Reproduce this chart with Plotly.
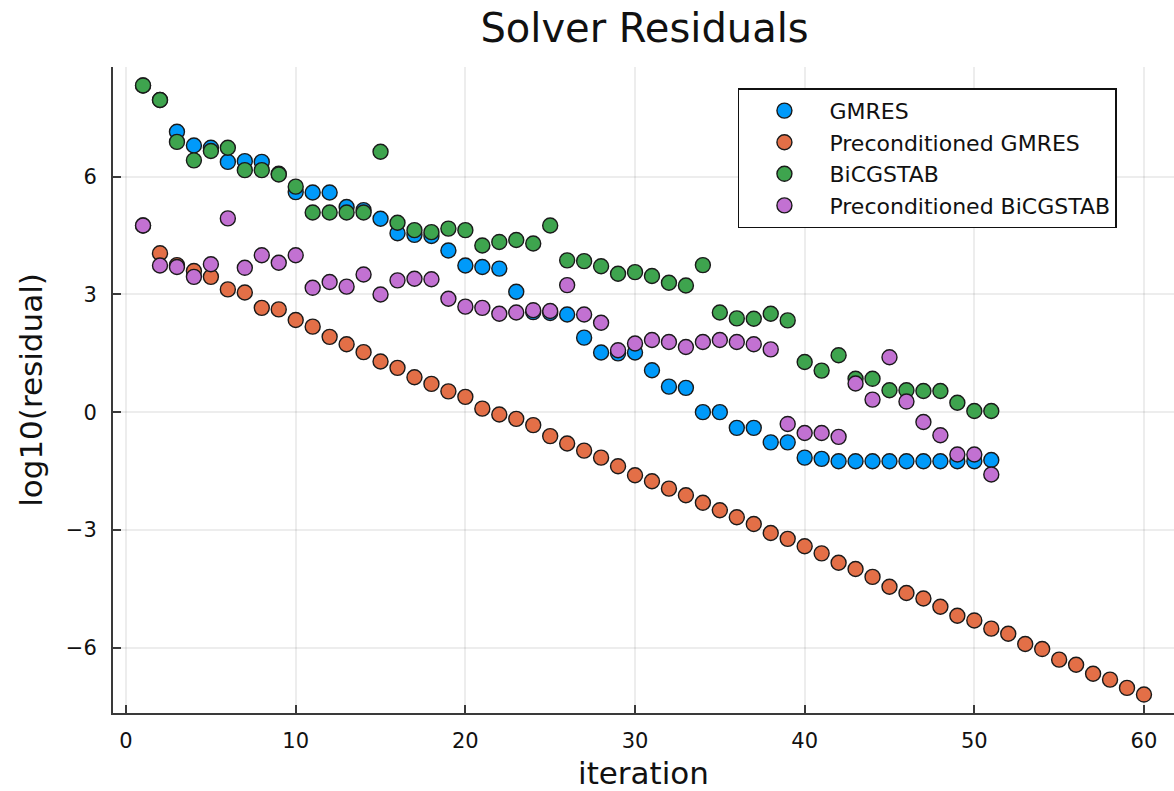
import plotly.graph_objects as go

# ---- data ----
it_51 = list(range(1, 52))
it_60 = list(range(1, 61))

gmres = [8.33, 7.96, 7.15, 6.80, 6.74, 6.38, 6.40, 6.38, 6.08, 5.61,
         5.60, 5.60, 5.23, 5.15, 4.93, 4.56, 4.52, 4.49, 4.12, 3.74,
         3.70, 3.66, 3.07, 2.55, 2.53, 2.49, 1.90, 1.52, 1.50, 1.52,
         1.07, 0.65, 0.62, 0.00, 0.00, -0.40, -0.40, -0.77, -0.77, -1.16,
         -1.19, -1.25, -1.25, -1.25, -1.25, -1.25, -1.25, -1.25, -1.25, -1.25,
         -1.22]

pre_gmres = [4.76, 4.05, 3.75, 3.60, 3.45, 3.13, 3.05, 2.66, 2.62, 2.35,
             2.18, 1.92, 1.73, 1.53, 1.29, 1.13, 0.89, 0.72, 0.53, 0.39,
             0.09, -0.06, -0.17, -0.33, -0.61, -0.80, -0.98, -1.16, -1.38, -1.61,
             -1.76, -1.95, -2.12, -2.31, -2.50, -2.68, -2.85, -3.08, -3.23, -3.42,
             -3.60, -3.84, -4.00, -4.20, -4.45, -4.61, -4.75, -4.96, -5.19, -5.31,
             -5.52, -5.65, -5.91, -6.04, -6.31, -6.44, -6.67, -6.82, -7.03, -7.20]

bicgstab = [8.33, 7.96, 6.89, 6.42, 6.66, 6.74, 6.17, 6.17, 6.06, 5.75,
            5.09, 5.09, 5.09, 5.09, 6.64, 4.83, 4.64, 4.59, 4.68, 4.64,
            4.25, 4.34, 4.39, 4.30, 4.76, 3.87, 3.85, 3.72, 3.53, 3.57,
            3.47, 3.30, 3.23, 3.75, 2.54, 2.39, 2.38, 2.51, 2.34, 1.28,
            1.06, 1.45, 0.85, 0.85, 0.56, 0.56, 0.54, 0.54, 0.24, 0.03,
            0.03]

pre_bicgstab = [4.76, 3.74, 3.70, 3.45, 3.77, 4.94, 3.68, 4.00, 3.81, 4.00,
                3.17, 3.32, 3.20, 3.51, 3.00, 3.36, 3.40, 3.39, 2.89, 2.69,
                2.66, 2.51, 2.54, 2.60, 2.58, 3.24, 2.49, 2.28, 1.58, 1.75,
                1.84, 1.79, 1.66, 1.79, 1.84, 1.79, 1.73, 1.60, -0.30, -0.53,
                -0.53, -0.63, 0.73, 0.32, 1.40, 0.27, -0.25, -0.59, -1.08, -1.08,
                -1.59]

series_names = ["GMRES", "Preconditioned GMRES", "BiCGSTAB", "Preconditioned BiCGSTAB"]
series_x = [it_51, it_60, it_51, it_51]
series_y = [gmres, pre_gmres, bicgstab, pre_bicgstab]
colors = ["#009AFA", "#E36F47", "#3EA44E", "#C271D2"]

x_ticks = [0, 10, 20, 30, 40, 50, 60]
y_ticks = [-6, -3, 0, 3, 6]

FONT = "DejaVu Sans"

fig = go.Figure()
for name, xs, ys, c in zip(series_names, series_x, series_y, colors):
    fig.add_trace(go.Scatter(
        x=xs, y=ys, mode="markers", name=name,
        marker=dict(size=15, color=c, line=dict(color="#1a1a1a", width=1.4)),
    ))

axis_common = dict(
    showgrid=True, gridcolor="rgba(0,0,0,0.07)", gridwidth=1.5,
    zeroline=False, showline=True, linecolor="#3a3a3a", linewidth=2,
    ticks="inside", ticklen=8, tickwidth=1.5, tickcolor="#3a3a3a",
    tickfont=dict(family=FONT, size=21, color="#111"),
    mirror=False,
)

fig.update_layout(
    width=1174, height=791,
    margin=dict(l=113, r=0, t=67, b=78),
    paper_bgcolor="white", plot_bgcolor="white",
    font=dict(family=FONT, color="#111"),
    title=dict(text="Solver Residuals", x=0.549, xanchor="center",
               y=1 - 28 / 791, yanchor="middle", yref="container",
               font=dict(family=FONT, size=40, color="#111")),
    xaxis=dict(range=[-0.77, 61.77], tickvals=x_ticks,
               title=dict(text="iteration", font=dict(family=FONT, size=31, color="#111"), standoff=10),
               ticklabelstandoff=8,
               **axis_common),
    yaxis=dict(range=[-7.67, 8.80], tickvals=y_ticks,
               title=dict(text="log10(residual)", font=dict(family=FONT, size=31, color="#111"), standoff=14),
               ticklabelstandoff=10,
               **axis_common),
    legend=dict(x=0.589, y=0.967, xanchor="left", yanchor="top",
                bgcolor="white", bordercolor="#111", borderwidth=1.5,
                font=dict(family=FONT, size=22, color="#111"),
                itemwidth=80, tracegroupgap=0),
    showlegend=True,
)

fig.write_html("out.html")
